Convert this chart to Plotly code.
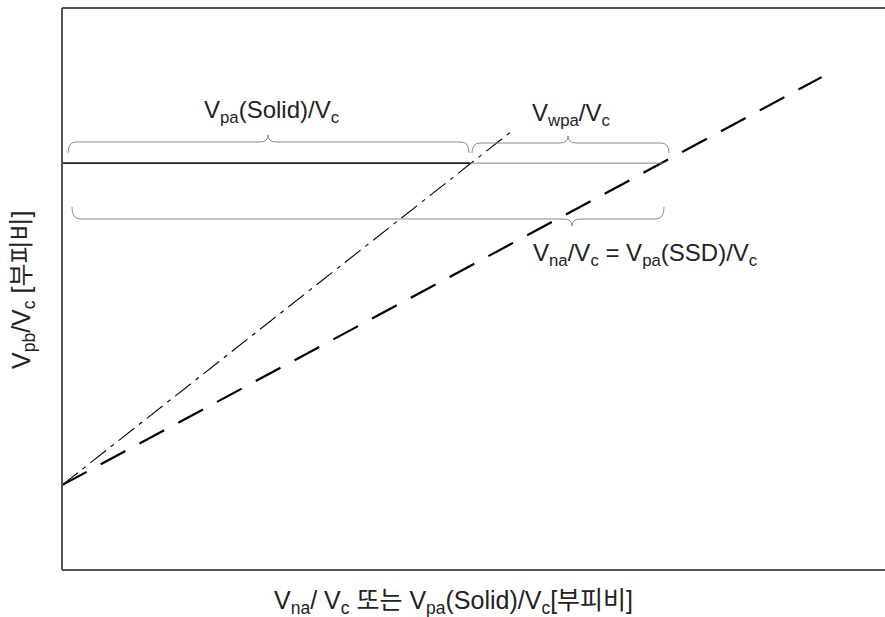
import plotly.graph_objects as go

# Volume-ratio sketch: axes are normalised (0..1), no numeric ticks are shown.
x_origin, y_origin = 0.0, 0.151          # common starting point on the y axis
solid_end = [0.544, 0.778]                # end of the solid-phase (dash-dot) line
ssd_end = [0.923, 0.877]                  # end of the SSD (dashed) line
level_y = 0.724                           # horizontal reference level
level_x_solid = 0.496                     # where the dash-dot line meets the level
level_x_ssd = 0.731                       # where the dashed line meets the level

label_solid = "V<sub>pa</sub>(Solid)/V<sub>c</sub>"
label_water = "V<sub>wpa</sub>/V<sub>c</sub>"
label_ssd = "V<sub>na</sub>/V<sub>c</sub> = V<sub>pa</sub>(SSD)/V<sub>c</sub>"
x_title = "V<sub>na</sub>/ V<sub>c</sub> 또는 V<sub>pa</sub>(Solid)/V<sub>c</sub>[부피비]"
y_title = "V<sub>pb</sub>/V<sub>c</sub> [부피비]"

W, H = 885, 617
L, R, T, B = 62, 0, 8, 47
PW, PH = W - L - R, H - T - B
FONT = "Liberation Sans, Noto Sans CJK KR, sans-serif"

fig = go.Figure()

# dashed SSD line
fig.add_trace(go.Scatter(
    x=[x_origin, ssd_end[0]], y=[y_origin, ssd_end[1]], mode="lines",
    line=dict(color="black", width=2.2, dash="28px,16px"), hoverinfo="skip"))
# dash-dot solid-phase line
fig.add_trace(go.Scatter(
    x=[x_origin, solid_end[0]], y=[y_origin, solid_end[1]], mode="lines",
    line=dict(color="black", width=1.1, dash="20px,6px,4px,6px"), hoverinfo="skip"))
# horizontal level: solid part and grey continuation
fig.add_trace(go.Scatter(
    x=[x_origin, level_x_solid], y=[level_y, level_y], mode="lines",
    line=dict(color="#222", width=1.6), hoverinfo="skip"))
fig.add_trace(go.Scatter(
    x=[level_x_solid, level_x_ssd], y=[level_y, level_y], mode="lines",
    line=dict(color="#888", width=1), hoverinfo="skip"))


def px2x(px):
    return (px - L) / PW


def px2y(py):
    return (T + PH - py) / PH


def brace(x0, x1, xm, y_line, y_end, y_tip, r=8):
    """Curly brace built in pixel space, converted to data coordinates."""
    pts = [
        ("M", [(x0, y_end)]),
        ("Q", [(x0, y_line), (x0 + r, y_line)]),
        ("L", [(xm - r, y_line)]),
        ("Q", [(xm, y_line), (xm, y_tip)]),
        ("Q", [(xm, y_line), (xm + r, y_line)]),
        ("L", [(x1 - r, y_line)]),
        ("Q", [(x1, y_line), (x1, y_end)]),
    ]
    out = []
    for cmd, ps in pts:
        out.append(cmd + " " + " ".join(f"{px2x(a):.5f},{px2y(b):.5f}" for a, b in ps))
    return " ".join(out)


brace_style = dict(type="path", xref="x", yref="y", line=dict(color="#8a8a8a", width=1))
fig.add_shape(path=brace(68, 469, 268, 142, 153, 135), **brace_style)
fig.add_shape(path=brace(472, 669, 568, 143, 153, 136), **brace_style)
fig.add_shape(path=brace(72, 664, 572, 219, 207, 226), **brace_style)

# frame on left, top and bottom (the right side runs off the page)
frame = dict(type="line", xref="paper", yref="paper", line=dict(color="#555", width=2))
fig.add_shape(x0=0, x1=0, y0=0, y1=1, **frame)
fig.add_shape(x0=0, x1=1.02, y0=1, y1=1, **frame)
fig.add_shape(x0=0, x1=1.02, y0=0, y1=0, **frame)

text_font = dict(family=FONT, size=24, color="#222")
fig.add_annotation(x=px2x(271), y=px2y(111), text=label_solid, showarrow=False,
                   font=text_font, xanchor="center", yanchor="middle")
fig.add_annotation(x=px2x(571), y=px2y(114), text=label_water, showarrow=False,
                   font=text_font, xanchor="center", yanchor="middle")
fig.add_annotation(x=px2x(645), y=px2y(254), text=label_ssd, showarrow=False,
                   font=text_font, xanchor="center", yanchor="middle")

# axis titles (paper coordinates so they sit outside the plot area)
fig.add_annotation(x=px2x(453), y=px2y(602), xref="paper", yref="paper",
                   text=x_title, showarrow=False,
                   font=dict(family=FONT, size=25, color="#222"),
                   xanchor="center", yanchor="middle")
fig.add_annotation(x=px2x(23), y=px2y(290), xref="paper", yref="paper",
                   text=y_title, showarrow=False, textangle=-90,
                   font=dict(family=FONT, size=25, color="#222"),
                   xanchor="center", yanchor="middle")

fig.update_xaxes(range=[0, 1], showgrid=False, zeroline=False, showticklabels=False,
                 ticks="", showline=False, fixedrange=True)
fig.update_yaxes(range=[0, 1], showgrid=False, zeroline=False, showticklabels=False,
                 ticks="", showline=False, fixedrange=True)

fig.update_layout(
    width=W, height=H, margin=dict(l=L, r=R, t=T, b=B),
    paper_bgcolor="white", plot_bgcolor="white", showlegend=False,
)

fig.write_html("out.html", config={"displayModeBar": False})
